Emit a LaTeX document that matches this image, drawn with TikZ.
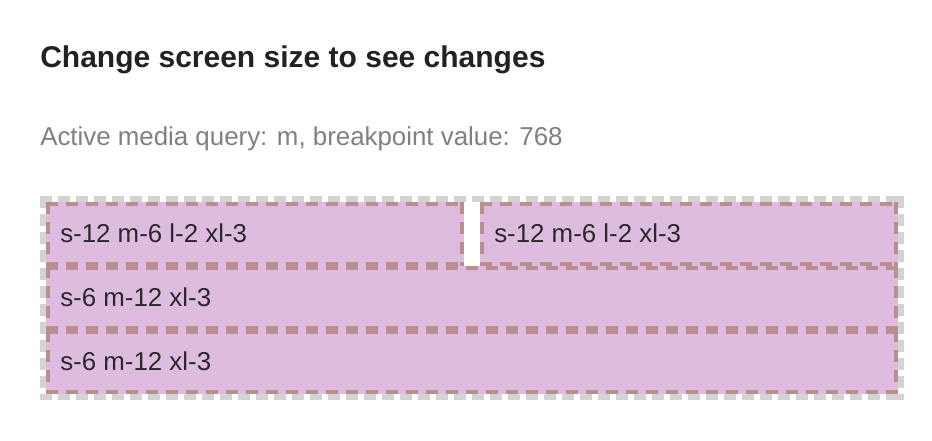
\documentclass[tikz,border=0pt]{standalone}
\usepackage{fontspec}
\setmainfont{Liberation Sans}
\definecolor{titlec}{HTML}{222222}
\definecolor{subc}{HTML}{808080}
\definecolor{textc}{HTML}{2A2A2A}
\definecolor{outerc}{HTML}{D3D3D3}
\definecolor{boxborder}{HTML}{BC8F8F}
\definecolor{boxfill}{RGB}{222,188,224}
\tikzset{
  outerline/.style={draw=outerc, line width=4.5pt, dash pattern=on 9pt off 4.5pt},
  cellline/.style={draw=boxborder, line width=3pt, dash pattern=on 9pt off 6pt},
  cellfill/.style={fill=boxfill},
  celltext/.style={anchor=base west, inner sep=0pt, text=textc, font=\fontsize{19.4pt}{22pt}\selectfont},
  titletext/.style={anchor=base west, inner sep=0pt, text=titlec, font=\fontsize{22.5pt}{26pt}\selectfont\bfseries},
  subtext/.style={anchor=base west, inner sep=0pt, text=subc, font=\fontsize{19.4pt}{22pt}\selectfont},
}
% cell with outer edges x1,y1,x2,y2 (px)
\newcommand{\cellbox}[4]{%
  \fill[cellfill] (#1,#2) rectangle (#3,#4);
  \draw[cellline] (#1,#2+2) -- (#3,#2+2);
  \draw[cellline] (#1,#4-2) -- (#3,#4-2);
  \draw[cellline] (#1+2,#2) -- (#1+2,#4);
  \draw[cellline] (#3-2,#2) -- (#3-2,#4);
}
\begin{document}
\begin{tikzpicture}[x=0.75pt,y=-0.75pt]
\useasboundingbox (0,0) rectangle (932,440);
\fill[white] (0,0) rectangle (932,440);
% cells
\cellbox{46}{202}{464}{266}
\cellbox{480}{202}{898}{266}
\cellbox{46}{266}{898}{330}
\cellbox{46}{330}{898}{394}
% outer container
\draw[outerline] (40,199) -- (904,199);
\draw[outerline] (40,397) -- (904,397);
\draw[outerline] (43,196) -- (43,400);
\draw[outerline] (901,196) -- (901,400);
% texts
\node[titletext] (title) at (40,67) {Change screen size to see changes};
\node[subtext] (sub) at (40,145) {Active media query: m, breakpoint value: 768};
\node[celltext] (c1) at (60,242) {s-12 m-6 l-2 xl-3};
\node[celltext] (c2) at (494,242) {s-12 m-6 l-2 xl-3};
\node[celltext] (c3) at (60,306) {s-6 m-12 xl-3};
\node[celltext] (c4) at (60,370) {s-6 m-12 xl-3};
\end{tikzpicture}
\end{document}
